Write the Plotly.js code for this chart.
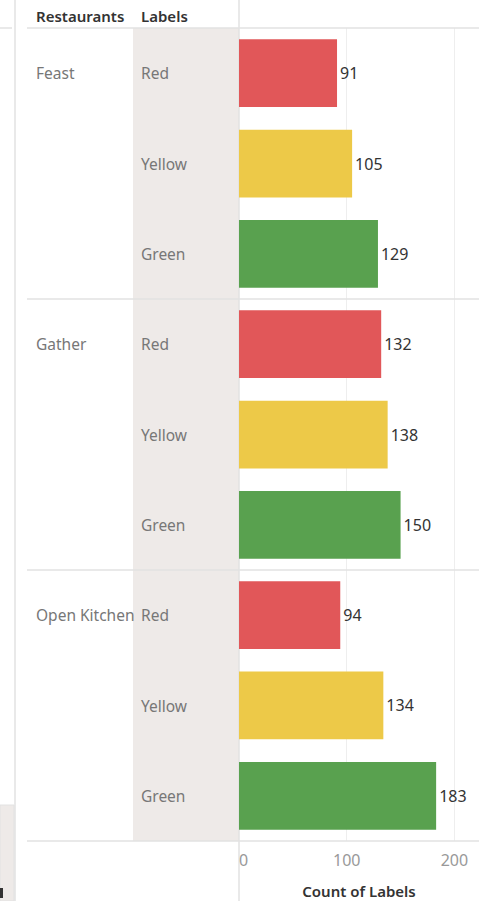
<!DOCTYPE html>
<html>
<head>
<meta charset="utf-8">
<script src="https://cdn.plot.ly/plotly-3.0.1.min.js"></script>
<style>
html,body{margin:0;padding:0;background:#fff;}
#chart{width:479px;height:901px;}
</style>
</head>
<body>
<div id="chart"></div>
<script>
const restaurants = ["Feast", "Gather", "Open Kitchen"];
const labels = ["Red", "Yellow", "Green"];
const feastCounts = [91, 105, 129];
const gatherCounts = [132, 138, 150];
const openKitchenCounts = [94, 134, 183];
const xTicks = [0, 100, 200];
const xTickText = ["\u20070", "100", "200"];
const labelColors = {Red: "#E15759", Yellow: "#EDC948", Green: "#59A14F"};

const countsByRestaurant = [feastCounts, gatherCounts, openKitchenCounts];
const yKeys = [], xVals = [], colors = [], texts = [];
restaurants.forEach((r, i) => {
  labels.forEach((l, j) => {
    yKeys.push(r + "|" + l);
    xVals.push(countsByRestaurant[i][j]);
    colors.push(labelColors[l]);
    texts.push(String(countsByRestaurant[i][j]));
  });
});

const FONT = "Noto Sans, Open Sans, sans-serif";
const L = 239, W = 240, T = 28, H = 813;
const px = v => (v - L) / W;           // pixel x -> paper x
const py = v => (T + H - v) / H;       // pixel y -> paper y
const lineCol = "#e2e2e2";

const shapes = [
  {type: "rect", xref: "paper", yref: "paper", x0: px(133), x1: 0, y0: 0, y1: 1,
   fillcolor: "#EEEAE8", line: {width: 0}, layer: "below"},
  {type: "line", xref: "paper", yref: "paper", x0: px(27), x1: 1, y0: 1, y1: 1,
   line: {color: lineCol, width: 1.5}},
  {type: "line", xref: "paper", yref: "paper", x0: px(27), x1: 1, y0: 0, y1: 0,
   line: {color: lineCol, width: 1.5}},
  {type: "line", xref: "paper", yref: "paper", x0: 0, x1: 0, y0: py(901), y1: py(0),
   line: {color: lineCol, width: 1.5}, layer: "below"},
  {type: "line", xref: "paper", yref: "paper", x0: px(15), x1: px(15), y0: py(901), y1: py(0),
   line: {color: lineCol, width: 1.5}},
  {type: "line", xref: "paper", yref: "paper", x0: px(0), x1: px(12), y0: py(28), y1: py(28),
   line: {color: lineCol, width: 1.5}},
  {type: "rect", xref: "paper", yref: "paper", x0: px(0), x1: px(14), y0: py(901), y1: py(805),
   fillcolor: "#EEEAE8", line: {color: lineCol, width: 1}},
  {type: "rect", xref: "paper", yref: "paper", x0: px(0), x1: px(3), y0: py(898), y1: py(888),
   fillcolor: "#333", line: {width: 0}}
];
for (let g = 1; g < restaurants.length; g++) {
  shapes.push({type: "line", xref: "paper", yref: "y", x0: px(27), x1: 1,
    y0: g * labels.length - 0.5, y1: g * labels.length - 0.5,
    line: {color: lineCol, width: 1.5}});
}

const annotations = [
  {text: "Restaurants", xref: "paper", yref: "paper", x: px(34), y: py(16), xanchor: "left", yanchor: "middle",
   showarrow: false, font: {family: FONT, size: 15, color: "#333", weight: 600}},
  {text: "Labels", xref: "paper", yref: "paper", x: px(139), y: py(16), xanchor: "left", yanchor: "middle",
   showarrow: false, font: {family: FONT, size: 15, color: "#333", weight: 600}}
];
restaurants.forEach((r, i) => {
  annotations.push({text: r, xref: "paper", yref: "y", x: px(34), y: r + "|" + labels[0],
    xanchor: "left", yanchor: "middle", showarrow: false,
    font: {family: FONT, size: 15.5, color: "#777"}});
  labels.forEach(l => {
    annotations.push({text: l, xref: "paper", yref: "y", x: px(139), y: r + "|" + l,
      xanchor: "left", yanchor: "middle", showarrow: false,
      font: {family: FONT, size: 15.5, color: "#777"}});
  });
});

const trace = {
  type: "bar", orientation: "h", y: yKeys, x: xVals,
  marker: {color: colors, line: {width: 0}},
  width: 0.75,
  text: texts, textposition: "outside", cliponaxis: false,
  textfont: {family: FONT, size: 16, color: "#333"},
  hoverinfo: "x+y"
};

const layout = {
  width: 479, height: 901,
  margin: {l: L, r: 0, t: T, b: 901 - T - H, pad: 0},
  paper_bgcolor: "#fff", plot_bgcolor: "rgba(0,0,0,0)",
  showlegend: false,
  xaxis: {range: [0, 222.8], tickvals: xTicks, ticktext: xTickText,
    showgrid: true, gridcolor: "#eeeeee", gridwidth: 1.5, zeroline: false, showline: false,
    ticks: "", ticklabelstandoff: 8, tickfont: {family: FONT, size: 16, color: "#999"},
    title: {text: "Count of Labels", font: {family: FONT, size: 15, color: "#333", weight: 600}, standoff: 16},
    fixedrange: true},
  yaxis: {type: "category", categoryorder: "array", categoryarray: yKeys,
    autorange: false, range: [yKeys.length - 0.5, -0.5],
    showticklabels: false, showgrid: false, zeroline: false, ticks: "", fixedrange: true},
  shapes: shapes,
  annotations: annotations,
  font: {family: FONT}
};

Plotly.newPlot("chart", [trace], layout, {displayModeBar: false, staticPlot: true});
</script>
</body>
</html>
